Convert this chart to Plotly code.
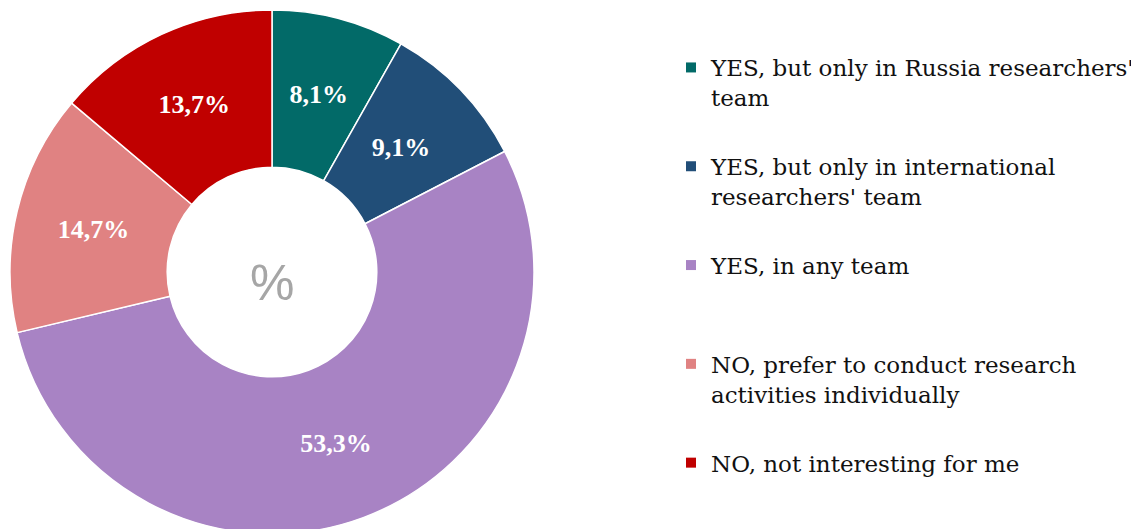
import math
import plotly.graph_objects as go

categories = [
    "YES, but only in Russia researchers'<br>team",
    "YES, but only in international<br>researchers' team",
    "YES, in any team",
    "NO, prefer to conduct research<br>activities individually",
    "NO, not interesting for me",
]
values = [8.1, 9.1, 53.3, 14.7, 13.7]
colors = ["#026A68", "#214E78", "#A883C4", "#E08282", "#C00000"]

W, H = 1131, 530
ML, MT, MB = 2, 2, 4
PW, PH = W - ML, H - MT - MB
R = PH / 2
HOLE = 0.4

# plotly pushes labels of narrow slices towards the rim; those labels are drawn
# by a transparent, smaller copy of the pie so they sit mid-ring like the others
total = sum(values)
narrow = []
for v in values:
    half = math.pi * v / total
    rins = min(1 / (1 + 1 / math.sin(half)), (1 - HOLE) / 2)
    narrow.append(1 - rins > (1 + HOLE) / 2 + 0.01)
LABEL = "%{value:.1f}%"
main_text = ["" if n else LABEL for n in narrow]
over_text = [LABEL if n else "" for n in narrow]
R2 = R * (1 + HOLE) / 2 / 0.797

fig = go.Figure()
fig.add_trace(
    go.Pie(
        labels=categories,
        values=values,
        sort=False,
        direction="clockwise",
        rotation=0,
        hole=HOLE,
        marker=dict(colors=colors, line=dict(color="white", width=1.5)),
        texttemplate=main_text,
        textposition="inside",
        insidetextorientation="horizontal",
        textfont=dict(family="Liberation Serif", size=26, color="white", weight="bold"),
        domain=dict(x=[0, PH / PW], y=[0, 1]),
        hoverinfo="label+value",
        showlegend=False,
    )
)
fig.add_trace(
    go.Pie(
        labels=categories,
        values=values,
        sort=False,
        direction="clockwise",
        rotation=0,
        hole=HOLE,
        marker=dict(colors=["rgba(0,0,0,0)"] * len(values), line=dict(width=0)),
        texttemplate=over_text,
        textposition="inside",
        insidetextorientation="horizontal",
        textfont=dict(family="Liberation Serif", size=26, color="white", weight="bold"),
        domain=dict(x=[(R - R2) / PW, (R + R2) / PW], y=[(R - R2) / PH, (R + R2) / PH]),
        hoverinfo="skip",
        showlegend=False,
    )
)

# legend entries (one group per category so entries are evenly spaced)
for i, (c, col) in enumerate(zip(categories, colors)):
    n = c.count("<br>") + 1
    fig.add_trace(
        go.Scatter(
            x=[None], y=[None], mode="markers", name=c + "<br> " * (2 - n),
            marker=dict(symbol="square", size=10, color=col),
            legendgroup=f"g{i}", showlegend=True, hoverinfo="skip",
        )
    )

fig.add_annotation(
    text="%", x=R / PW, y=0.5 - 11 / PH,
    xref="paper", yref="paper", xanchor="center", yanchor="middle", showarrow=False,
    font=dict(family="Liberation Sans", size=50, color="#A6A6A6"),
)

fig.update_layout(
    width=W,
    height=H,
    margin=dict(l=ML, r=0, t=MT, b=MB, autoexpand=False),
    paper_bgcolor="white",
    plot_bgcolor="white",
    separators=", ",
    xaxis=dict(visible=False),
    yaxis=dict(visible=False),
    showlegend=True,
    legend=dict(
        xref="container", yref="container",
        x=663 / W, y=1 - 38 / H,
        xanchor="left", yanchor="top",
        valign="top",
        tracegroupgap=36,
        maxheight=600,
        font=dict(family="DejaVu Serif", size=23, color="#111111"),
        traceorder="grouped",
    ),
)

fig.write_html("out.html")
